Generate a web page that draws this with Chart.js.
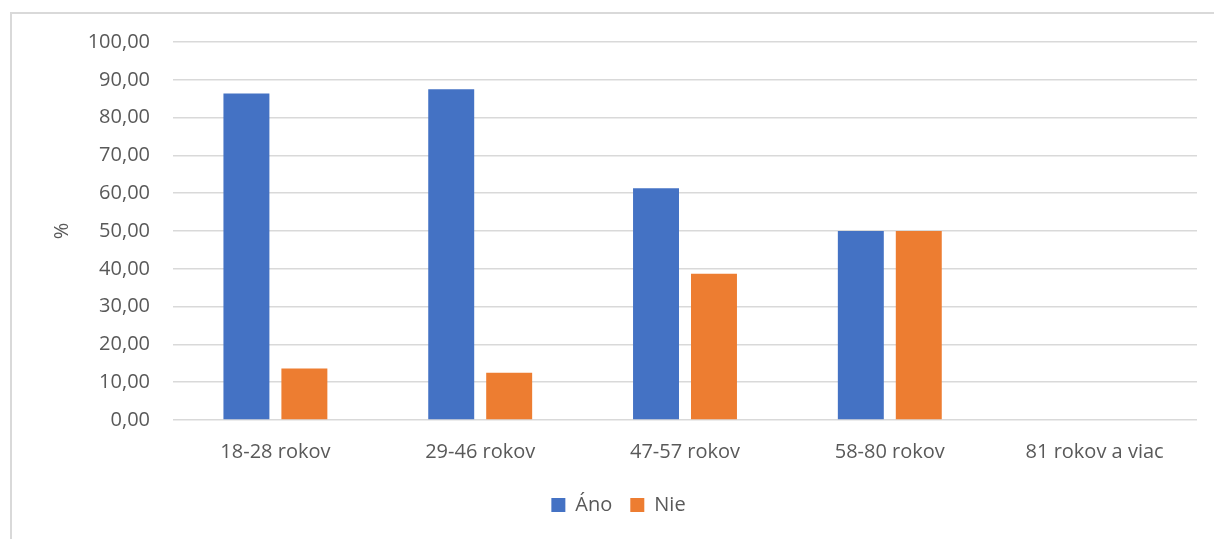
<!DOCTYPE html>
<html>
<head>
<meta charset="utf-8">
<script src="https://cdn.jsdelivr.net/npm/chart.js@4"></script>
<style>
  html, body { margin: 0; padding: 0; background: #fff; overflow: hidden; }
  #frame { position: absolute; left: 10px; top: 12px; width: 1300px; height: 600px;
           border-left: 2px solid #d9d9d9; border-top: 2px solid #d9d9d9; }
  #canvas-1 { position: absolute; left: 0; top: 0; }
</style>
</head>
<body>
<div id="frame"></div>
<canvas id="canvas-1" width="1214" height="539"></canvas>
<script>
var categories = ['18-28 rokov', '29-46 rokov', '47-57 rokov', '58-80 rokov', '81 rokov a viac'];
var anoValues = [86.36, 87.50, 61.29, 50.00, 0];
var nieValues = [13.64, 12.50, 38.71, 50.00, 0];
var yTicks = { min: 0, max: 100, step: 10 };

var textColor = '#595959';
var font = { family: 'Open Sans', size: 20 };

var barChartData = {
  labels: categories,
  datasets: [
    {
      label: 'Áno',
      backgroundColor: '#4472C4',
      data: anoValues,
      categoryPercentage: 0.566,
      barPercentage: 0.793
    },
    {
      label: 'Nie',
      backgroundColor: '#ED7D31',
      data: nieValues,
      categoryPercentage: 0.566,
      barPercentage: 0.793
    }
  ]
};

var ctx = document.getElementById('canvas-1');
var chart = new Chart(ctx, {
  type: 'bar',
  data: barChartData,
  options: {
    responsive: false,
    animation: false,
    layout: { padding: { left: 40, top: 42, right: 17, bottom: 14 } },
    plugins: {
      tooltip: { enabled: false },
      legend: {
        position: 'bottom',
        labels: {
          color: textColor,
          font: font,
          boxWidth: 14,
          boxHeight: 14,
          padding: 18
        }
      }
    },
    scales: {
      x: {
        grid: { display: false, drawTicks: false },
        border: { display: false },
        ticks: { color: textColor, font: font, padding: 20, maxRotation: 0 },
        afterFit: function (scale) { scale.height = 57; }
      },
      y: {
        min: yTicks.min,
        max: yTicks.max,
        grid: { color: '#d9d9d9', lineWidth: 1.5, drawTicks: false },
        border: { display: false },
        ticks: {
          stepSize: yTicks.step,
          color: textColor,
          font: font,
          padding: 23,
          callback: function (v) { return v.toFixed(2).replace('.', ','); }
        },
        title: {
          display: true,
          text: '%',
          color: textColor,
          font: font,
          padding: { top: 10, bottom: 0 }
        },
        afterFit: function (scale) { scale.width = 133; }
      }
    }
  }
});
</script>
</body>
</html>
